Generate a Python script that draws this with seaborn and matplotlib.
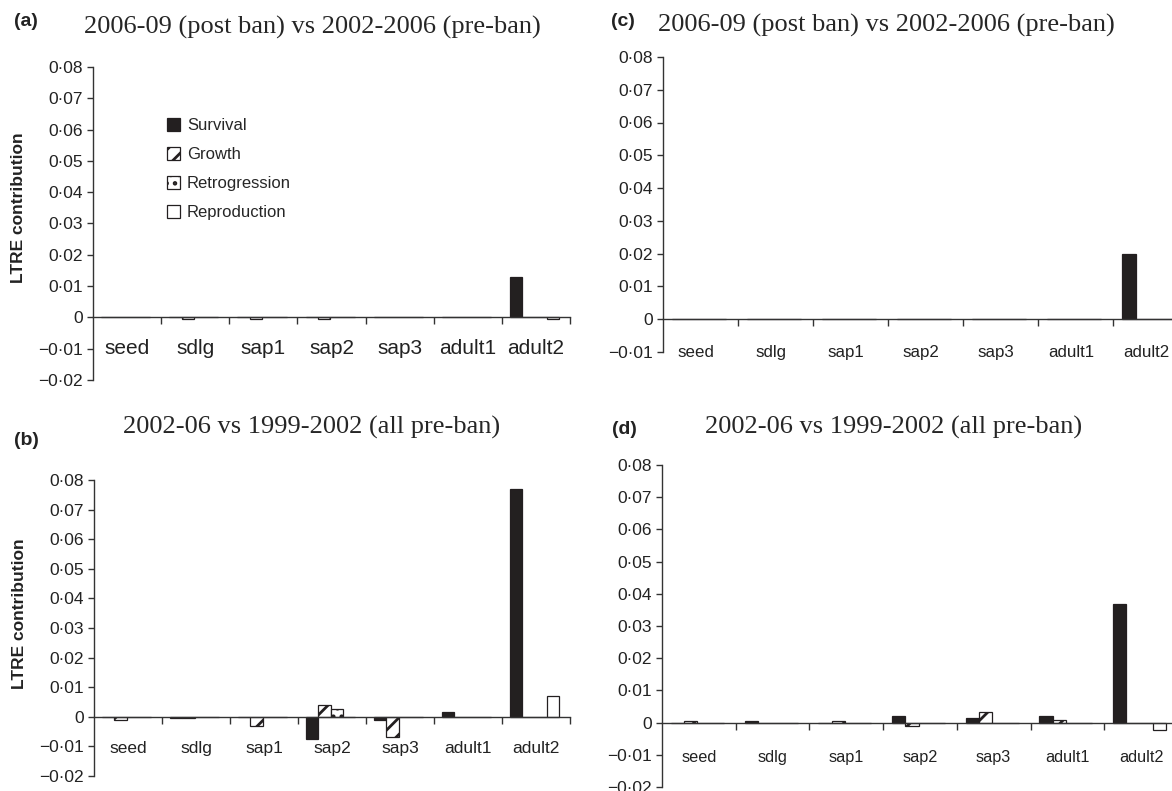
import matplotlib
matplotlib.use('Agg')
import matplotlib.pyplot as plt
from matplotlib.patches import Patch
from matplotlib.ticker import FuncFormatter
import seaborn as sns
import pandas as pd
import numpy as np

# Categories
stages = ['seed', 'sdlg', 'sap1', 'sap2', 'sap3', 'adult1', 'adult2']
components = ['Survival', 'Growth', 'Retrogression', 'Reproduction']

# (a) 2006-09 (post ban) vs 2002-2006 (pre-ban)
a_survival = [0, 0, 0, 0, 0, 0, 0.0130]
a_growth = [0, -0.0006, -0.0006, -0.0006, 0, 0, 0]
a_retro = [0, 0, 0, 0, 0, 0, 0]
a_repro = [0, 0, 0, 0, 0, 0, -0.0006]

# (b) 2002-06 vs 1999-2002 (all pre-ban)
b_survival = [0, -0.0004, 0, -0.0075, -0.0010, 0.0017, 0.0770]
b_growth = [-0.0010, -0.0004, -0.0030, 0.0040, -0.0069, 0, 0]
b_retro = [0, 0, 0, 0.0025, 0, 0, 0]
b_repro = [0, 0, 0, 0, 0, 0, 0.0070]

# (c) 2006-09 (post ban) vs 2002-2006 (pre-ban)
c_survival = [0, 0, 0, 0, 0, 0, 0.0200]
c_growth = [0, 0, 0, 0, 0, 0, 0]
c_retro = [0, 0, 0, 0, 0, 0, 0]
c_repro = [0, 0, 0, 0, 0, 0, 0]

# (d) 2002-06 vs 1999-2002 (all pre-ban)
d_survival = [0, 0.0005, 0, 0.0019, 0.0013, 0.0019, 0.0367]
d_growth = [0.0005, 0, 0.0005, -0.0010, 0.0032, 0.0009, 0]
d_retro = [0, 0, 0, 0, 0, 0, 0]
d_repro = [0, 0, 0, 0, 0, 0, -0.0023]

title_post = '2006-09 (post ban) vs 2002-2006 (pre-ban)'
title_pre = '2002-06 vs 1999-2002 (all pre-ban)'

sns.set_theme(style='white')
plt.rcParams['font.family'] = ['Liberation Sans', 'DejaVu Sans']
plt.rcParams['hatch.linewidth'] = 2.0

DARK = '#231f20'
AXC = '#333333'
faces = {'Survival': DARK, 'Growth': 'white', 'Retrogression': 'white', 'Reproduction': 'white'}
hatches = ['', '//', '..', '']

W, H = 1172, 791
fig = plt.figure(figsize=(W / 100, H / 100), dpi=100)


def make_df(surv, grow, retro, repro):
    rows = []
    for comp, vals in zip(components, [surv, grow, retro, repro]):
        for s, v in zip(stages, vals):
            rows.append({'stage': s, 'component': comp, 'value': v})
    return pd.DataFrame(rows)


def px_axes(x0, x1, ytop, ybot):
    return fig.add_axes([x0 / W, 1 - ybot / H, (x1 - x0) / W, (ybot - ytop) / H])


def fmt(v, pos):
    v = round(v, 2)
    if v == 0:
        return '0'
    return f'{v:.2f}'.replace('.', '\u00b7').replace('-', '\u2212')


def panel(ax, df, ymin, xfs, xpad_px, lab_shift=0.02):
    sns.barplot(data=df, x='stage', y='value', hue='component', order=stages,
                hue_order=components, palette=faces, width=0.72, errorbar=None,
                edgecolor=DARK, linewidth=0.9, legend=False, ax=ax)
    for cont, h in zip(ax.containers, hatches):
        for bar in cont:
            bar.set_hatch(h)
    ax.set_xlim(-0.48, 6.52)
    ax.set_ylim(ymin, 0.08)
    ax.set_xlabel('')
    ax.set_ylabel('')
    for s in ['top', 'right']:
        ax.spines[s].set_visible(False)
    ax.spines['bottom'].set_position(('data', 0))
    for s in ['left', 'bottom']:
        ax.spines[s].set_color(AXC)
        ax.spines[s].set_linewidth(1.0)
    ax.set_yticks(np.arange(ymin, 0.0801, 0.01))
    ax.yaxis.set_major_formatter(FuncFormatter(fmt))
    ax.tick_params(axis='y', direction='out', length=4.5, width=1.0, color=AXC,
                   labelsize=12.5, pad=3, left=True)
    ax.set_xticks(np.arange(7) + lab_shift)
    ax.set_xticklabels(stages, fontsize=xfs, va='center')
    ax.set_xticks(np.arange(1, 8) - 0.48, minor=True)
    ax.tick_params(axis='x', which='major', length=0, pad=xpad_px * 0.72)
    ax.tick_params(axis='x', which='minor', direction='out', length=5, width=1.0,
                   color=AXC, bottom=True)
    ax.tick_params(axis='both', labelcolor='#222222')
    ax.grid(False)


ax_a = px_axes(93, 570, 67, 380)
ax_b = px_axes(94, 570, 480, 776)
ax_c = px_axes(663, 1188, 57, 351.75)
ax_d = px_axes(662, 1178, 465, 787)

panel(ax_a, make_df(a_survival, a_growth, a_retro, a_repro), -0.02, 15, 31)
panel(ax_b, make_df(b_survival, b_growth, b_retro, b_repro), -0.02, 12.5, 31.5)
panel(ax_c, make_df(c_survival, c_growth, c_retro, c_repro), -0.01, 12.2, 33, lab_shift=-0.04)
panel(ax_d, make_df(d_survival, d_growth, d_retro, d_repro), -0.02, 11.7, 34.5)

for ax in [ax_a, ax_b]:
    ax.set_ylabel('LTRE contribution', fontsize=12.5, fontweight='bold', color='#222222')
    ax.yaxis.set_label_coords(-0.14, 0.55)

# legend in panel (a)
handles = [Patch(facecolor=faces[c], edgecolor=DARK, hatch=h, linewidth=0.9)
           for c, h in zip(components, hatches)]
ax_a.legend(handles, components, loc='upper left', bbox_to_anchor=(0.155, 0.837),
            frameon=False, fontsize=12, handlelength=0.8, handleheight=0.8,
            handletextpad=0.4, labelspacing=0.83, borderpad=0, borderaxespad=0)

# panel titles and letters
serif = ['Liberation Serif', 'DejaVu Serif']
fig.text(312 / W, 1 - 27 / H, title_post, family=serif, fontsize=19, ha='center', va='center')
fig.text(886 / W, 1 - 25 / H, title_post, family=serif, fontsize=19, ha='center', va='center')
fig.text(312 / W, 1 - 427 / H, title_pre, family=serif, fontsize=19, ha='center', va='center')
fig.text(894 / W, 1 - 427 / H, title_pre, family=serif, fontsize=19, ha='center', va='center')

for lab, x, y in [('(a)', 26, 22), ('(b)', 26, 440), ('(c)', 623, 21), ('(d)', 624, 429)]:
    fig.text(x / W, 1 - y / H, lab, fontsize=14, fontweight='bold', ha='center', va='center',
             color='#222222')

fig.savefig('out.png', dpi=100)
